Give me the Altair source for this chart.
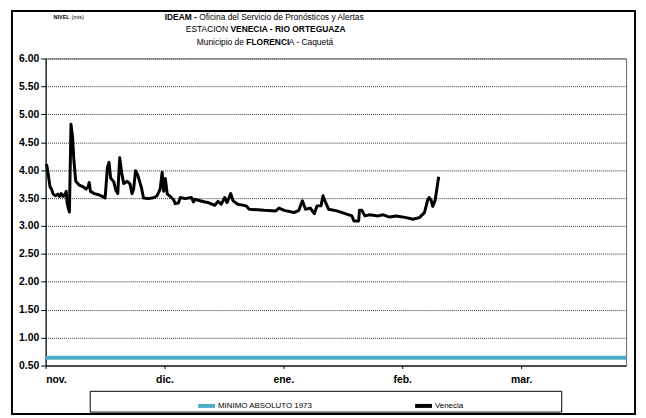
import altair as alt
import pandas as pd

# ---- data ----
month_labels = ["nov.", "dic.", "ene.", "feb.", "mar."]
month_days = [0, 30, 60, 90, 120]
y_ticks = [0.5, 1.0, 1.5, 2.0, 2.5, 3.0, 3.5, 4.0, 4.5, 5.0, 5.5, 6.0]

series_names = ["MINIMO ABSOLUTO 1973", "Venecia"]
series_colors = ["#4BACC6", "#000000"]

minimo_days = [0, 146.5]
minimo_level = [0.64, 0.64]

venecia_days = [0.2, 0.5, 1.1, 1.5, 1.9, 2.5, 3.1, 3.5, 3.9, 4.4, 4.8, 5.2, 5.4, 5.7, 6.0,
                6.4, 6.8, 7.1, 7.6, 8.5, 9.5, 10.2, 10.7, 11.0, 11.3, 12.3, 13.3, 14.3, 15.0,
                15.6, 16.0, 16.4, 17.2, 17.7, 18.2, 18.7, 19.2, 19.7, 20.6, 21.3, 21.8, 22.2,
                22.7, 23.3, 24.2, 24.7, 26.0, 27.5, 28.1, 28.9, 29.4, 29.8, 30.2, 30.7, 31.6,
                32.3, 32.7, 33.5, 34.0, 35.2, 36.8, 37.3, 37.7, 38.5, 40.2, 41.0, 42.7, 43.5,
                44.3, 45.2, 45.8, 46.7, 47.3, 48.5, 50.6, 51.4, 55.2, 58.1, 58.9, 60.2, 62.7,
                63.9, 64.8, 65.6, 66.8, 67.8, 68.5, 69.5, 70.0, 70.6, 71.4, 73.5, 75.2, 77.3,
                77.8, 79.0, 79.2, 79.8, 80.6, 81.8, 83.9, 85.2, 86.8, 88.5, 91.0, 92.7, 94.3,
                95.6, 96.4, 96.8, 97.3, 97.7, 98.3, 99.2]
venecia_level = [4.11, 4.00, 3.70, 3.66, 3.57, 3.54, 3.57, 3.53, 3.58, 3.53, 3.56, 3.62, 3.42, 3.32, 3.25,
                 4.82, 4.60, 4.20, 3.80, 3.73, 3.70, 3.66, 3.70, 3.78, 3.62, 3.58, 3.56, 3.53, 3.50,
                 4.05, 4.14, 3.86, 3.79, 3.64, 3.58, 4.22, 3.95, 3.76, 3.80, 3.75, 3.58, 3.66,
                 3.99, 3.90, 3.68, 3.50, 3.49, 3.51, 3.54, 3.66, 3.96, 3.62, 3.85, 3.57, 3.52,
                 3.47, 3.40, 3.41, 3.51, 3.49, 3.51, 3.43, 3.48, 3.46, 3.43, 3.42, 3.37, 3.44,
                 3.39, 3.51, 3.42, 3.58, 3.45, 3.39, 3.36, 3.30, 3.28, 3.27, 3.32, 3.28, 3.24,
                 3.28, 3.45, 3.30, 3.32, 3.22, 3.36, 3.36, 3.54, 3.43, 3.30, 3.27, 3.23, 3.18,
                 3.09, 3.09, 3.28, 3.28, 3.18, 3.20, 3.18, 3.20, 3.16, 3.18, 3.15, 3.12, 3.15,
                 3.24, 3.46, 3.51, 3.46, 3.35, 3.46, 3.88]

# ---- tables ----
df_min = pd.DataFrame({"day": minimo_days, "level": minimo_level, "serie": series_names[0]})
df_ven = pd.DataFrame({"day": venecia_days, "level": venecia_level, "serie": series_names[1]})
one = pd.DataFrame({"k": [0]})

label_expr = "[" + ",".join("'%s'" % m for m in month_labels) + "][round(datum.value/30)]"

FONT = "Liberation Sans"

x_enc = alt.X("day:Q",
              scale=alt.Scale(domain=[0, 146.5], nice=False, zero=False),
              axis=alt.Axis(values=month_days, labelExpr=label_expr, title=None,
                            grid=False, domainColor="black", tickColor="black",
                            tickSize=3, labelPadding=6, labelFont=FONT,
                            labelFontWeight="bold", labelFontSize=10.5, labelColor="black"))
y_enc = alt.Y("level:Q",
              scale=alt.Scale(domain=[0.5, 6], nice=False, zero=False),
              axis=alt.Axis(values=y_ticks, format=".2f", title=None, grid=True,
                            gridColor="#333333", gridDash=[1, 1], gridWidth=1,
                            domainColor="black", tickColor="black", tickSize=5,
                            labelPadding=2, labelFont=FONT, labelFontWeight="bold",
                            labelFontSize=10.5, labelColor="black"))
color_enc = alt.Color("serie:N",
                      scale=alt.Scale(domain=series_names, range=series_colors),
                      legend=alt.Legend(orient="none", legendX=152, legendY=340,
                                        direction="horizontal", title=None,
                                        symbolType="stroke", symbolSize=289,
                                        symbolStrokeWidth=4, labelFont=FONT,
                                        labelFontSize=8, labelColor="black",
                                        columnPadding=95, padding=0, labelOffset=1))

minimo = alt.Chart(df_min).mark_line(strokeWidth=4).encode(x=x_enc, y=y_enc, color=color_enc)
venecia = alt.Chart(df_ven).mark_line(strokeWidth=3, strokeJoin="round").encode(
    x=x_enc, y=y_enc, color=color_enc)

frame = alt.Chart(one).mark_rect(filled=False, stroke="black", strokeWidth=2).encode(
    x=alt.value(-34), x2=alt.value(595), y=alt.value(-48), y2=alt.value(359))
legend_box = alt.Chart(one).mark_rect(filled=False, stroke="black", strokeWidth=1).encode(
    x=alt.value(45), x2=alt.value(521), y=alt.value(336), y2=alt.value(357))


def txt(s, x, y, align, weight="normal", size=8.5, font=FONT):
    return alt.Chart(one).mark_text(align=align, baseline="middle", font=font,
                                    fontSize=size, fontWeight=weight, color="black").encode(
        x=alt.value(x), y=alt.value(y), text=alt.value(s))


texts = [
    txt("NIVEL", 8, -42, "left", "bold", 5.5),
    txt("(mts)", 26, -42, "left", "normal", 5.5),
    txt("IDEAM -", 152.7, -42, "right", "bold"),
    txt("Oficina del Servicio de Pronósticos y Alertas", 155, -42, "left"),
    txt("ESTACION", 184.3, -29.5, "right"),
    txt("VENECIA - RIO ORTEGUAZA", 186.6, -29.5, "left", "bold"),
    txt("Municipio de", 200.2, -17, "right"),
    txt("FLORENCI", 202.6, -17, "left", "bold"),
    txt("A - Caquetá", 245.5, -17, "left"),
]

chart = alt.layer(frame, legend_box, *texts, minimo, venecia).properties(
    width=586, height=310,
    autosize=alt.AutoSizeParams(type="none"),
    padding={"left": 38, "top": 49, "right": 12, "bottom": 51},
).configure_view(stroke="#666666", strokeWidth=1)

chart.save("out.html", embed_options={"renderer": "svg", "actions": False})
